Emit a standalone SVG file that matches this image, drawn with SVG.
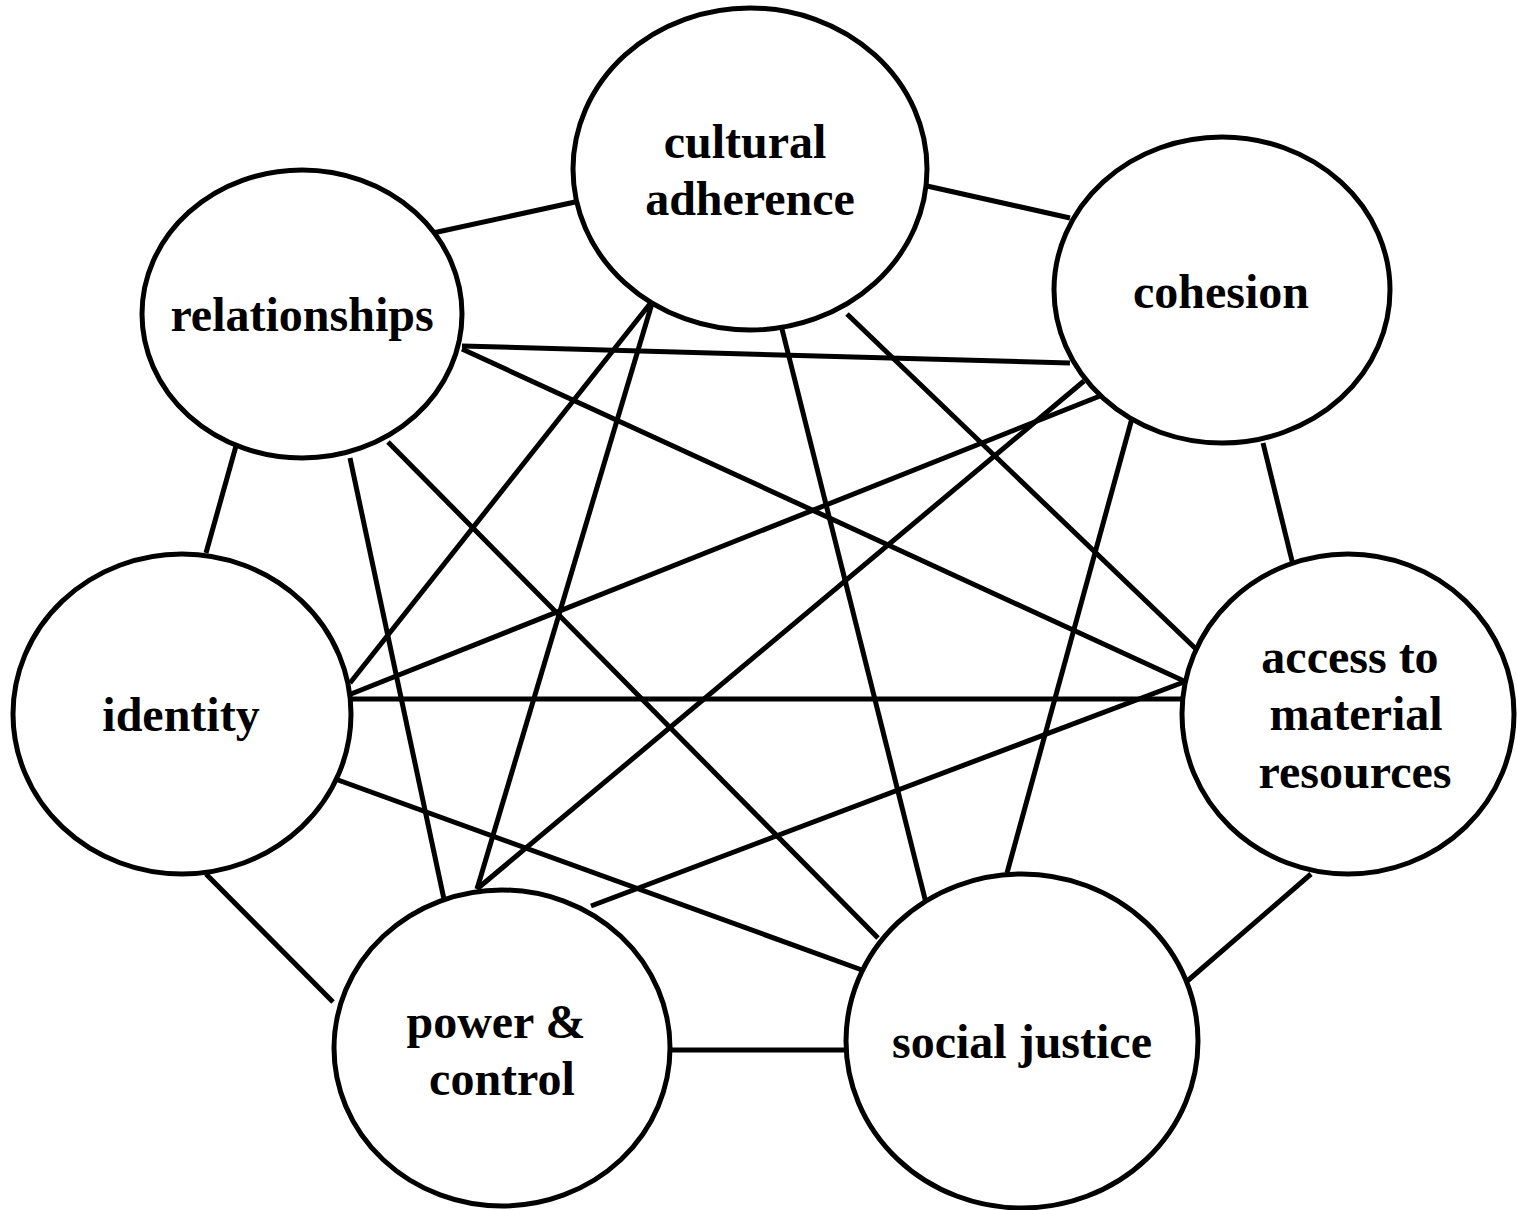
<svg xmlns="http://www.w3.org/2000/svg" width="1517" height="1210" viewBox="0 0 1517 1210">
<style>
.node ellipse{fill:#fff;stroke:#000;stroke-width:5}
.node text{font-family:"Liberation Serif","Times New Roman",serif;font-weight:bold;font-size:48px;fill:#000;text-anchor:middle}
#connectors line{stroke:#000;stroke-width:5;stroke-linecap:butt}
</style>
<rect width="1517" height="1210" fill="#fff"/>
<g id="connectors">
<line x1="433" y1="233" x2="575" y2="202"/>
<line x1="462" y1="346" x2="1070" y2="363"/>
<line x1="462" y1="349" x2="1184" y2="681"/>
<line x1="236" y1="446" x2="206" y2="553"/>
<line x1="350" y1="458" x2="445" y2="904"/>
<line x1="388" y1="442" x2="878" y2="938"/>
<line x1="927" y1="186" x2="1070" y2="218"/>
<line x1="653" y1="300" x2="350" y2="683"/>
<line x1="653" y1="300" x2="477" y2="889"/>
<line x1="782" y1="329" x2="926" y2="903"/>
<line x1="847" y1="314" x2="1196" y2="649"/>
<line x1="1100" y1="396" x2="351" y2="694"/>
<line x1="1084" y1="381" x2="477" y2="889"/>
<line x1="1134" y1="411" x2="1007" y2="873"/>
<line x1="1263" y1="443" x2="1294" y2="569"/>
<line x1="351" y1="699" x2="1182" y2="699"/>
<line x1="338" y1="780" x2="862" y2="970"/>
<line x1="206" y1="874" x2="333" y2="1002"/>
<line x1="591" y1="906" x2="1184" y2="682"/>
<line x1="1311" y1="874" x2="1185" y2="983"/>
<line x1="671" y1="1050" x2="847" y2="1050"/>
</g>
<g id="node-cultural" class="node">
<ellipse cx="750" cy="169" rx="177" ry="161"/>
<text x="745" y="158">cultural</text>
<text x="750" y="215">adherence</text>
</g>
<g id="node-relationships" class="node">
<ellipse cx="302" cy="314" rx="160" ry="144"/>
<text x="302" y="331">relationships</text>
</g>
<g id="node-cohesion" class="node">
<ellipse cx="1222" cy="290" rx="168" ry="153"/>
<text x="1221" y="308">cohesion</text>
</g>
<g id="node-identity" class="node">
<ellipse cx="182" cy="714" rx="169" ry="160"/>
<text x="181" y="731">identity</text>
</g>
<g id="node-access" class="node">
<ellipse cx="1348" cy="714" rx="166" ry="160"/>
<text x="1350" y="673">access to</text>
<text x="1356" y="730">material</text>
<text x="1355" y="788">resources</text>
</g>
<g id="node-power" class="node">
<ellipse cx="502" cy="1048" rx="168" ry="158"/>
<text x="496" y="1038">power &amp;</text>
<text x="502" y="1095">control</text>
</g>
<g id="node-social" class="node">
<ellipse cx="1022" cy="1041" rx="176" ry="167"/>
<text x="1022" y="1058">social justice</text>
</g>
</svg>
